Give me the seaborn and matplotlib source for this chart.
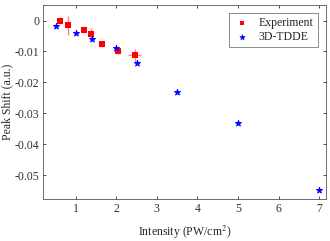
import matplotlib
matplotlib.use("Agg")
import matplotlib.pyplot as plt
import seaborn as sns
import pandas as pd
import numpy as np

exp_x = [0.62, 0.80, 1.20, 1.38, 1.64, 2.04, 2.46]
exp_y = [0.0, -0.0016, -0.0030, -0.0045, -0.0075, -0.0100, -0.0113]
exp_xerr = [0.04, 0.03, 0.06, 0.03, 0.03, 0.08, 0.16]
exp_yerr = [0.0010, 0.0030, 0.0010, 0.0022, 0.0010, 0.0008, 0.0020]

tdde_x = [0.51, 1.0, 1.39, 1.99, 2.50, 3.5, 5.0, 7.0]
tdde_y = [-0.0019, -0.0040, -0.0059, -0.0090, -0.0138, -0.0230, -0.0330, -0.0547]

sns.set_style("ticks")
plt.rcParams['font.family'] = ['Liberation Serif', 'DejaVu Serif']
plt.rcParams['mathtext.fontset'] = 'stix'

fig = plt.figure(figsize=(3.30, 2.41), dpi=100)
ax = fig.add_axes([0.131, 0.174, 0.857, 0.805])

ax.errorbar(exp_x, exp_y, xerr=exp_xerr, yerr=exp_yerr, fmt='none',
            ecolor=(1, 0.45, 0.45), alpha=0.85, elinewidth=1.0, capsize=0, zorder=2)

df_e = pd.DataFrame({'x': exp_x, 'y': exp_y})
df_t = pd.DataFrame({'x': tdde_x, 'y': tdde_y})
sns.scatterplot(data=df_e, x='x', y='y', ax=ax, marker='s', color='red',
                s=18, edgecolor='red', linewidth=0, label='Experiment', zorder=3)
sns.scatterplot(data=df_t, x='x', y='y', ax=ax, marker='*', color='blue',
                s=22, edgecolor='blue', linewidth=0.6, label='3D-TDDE', zorder=3)

ax.set_xlim(0.2, 7.17)
ax.set_ylim(-0.0577, 0.005)
ax.set_xticks([1, 2, 3, 4, 5, 6, 7])
ax.set_yticks([0, -0.01, -0.02, -0.03, -0.04, -0.05])
ax.set_yticklabels(['0', '-0.01', '-0.02', '-0.03', '-0.04', '-0.05'])
ax.tick_params(direction='in', top=True, right=True, length=2.5, width=0.6,
               labelsize=8.5, colors='#333333', pad=3)
for s in ax.spines.values():
    s.set_linewidth(0.6)
    s.set_color('#555555')
ax.set_xlabel('Intensity (PW/cm$^2$)', fontsize=8.5, labelpad=6)
ax.set_ylabel('Peak Shift (a.u.)', fontsize=8.5, labelpad=1)
ax.yaxis.set_label_coords(-0.105, 0.5)

leg = ax.legend(loc='upper right', fontsize=8.5, frameon=True, fancybox=False,
                edgecolor='#555555', handletextpad=0.6, borderpad=0.35,
                labelspacing=0.15, handlelength=1.6, borderaxespad=0.7,
                markerscale=0.8)
leg.get_frame().set_linewidth(0.6)

fig.savefig('out.png', dpi=100)
